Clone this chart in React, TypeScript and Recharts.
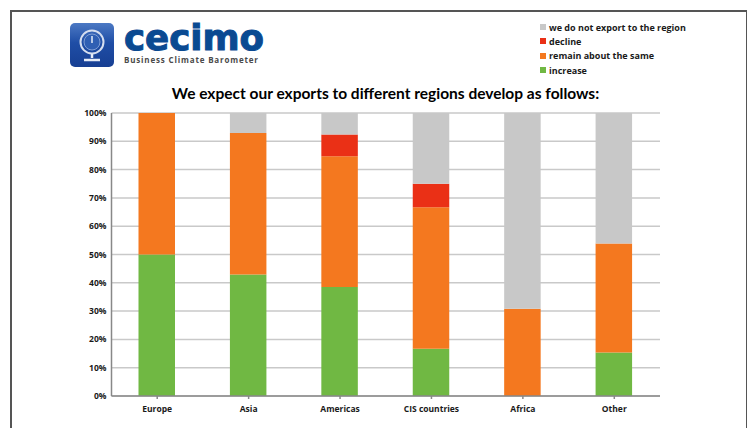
import React from "react";
import { BarChart, Bar, CartesianGrid, XAxis, YAxis, Legend } from "recharts";

const regions = ["Europe", "Asia", "Americas", "CIS countries", "Africa", "Other"];
const increase = [50, 42.9, 38.5, 16.7, 0, 15.4];
const remain = [50, 50, 46.2, 50, 30.8, 38.5];
const decline = [0, 0, 7.7, 8.3, 0, 0];
const noExport = [0, 7.1, 7.6, 25, 69.2, 46.1];
const percentTicks = [0, 10, 20, 30, 40, 50, 60, 70, 80, 90, 100];

const data = regions.map((name, i) => ({
  name,
  increase: increase[i],
  remain: remain[i],
  decline: decline[i],
  noExport: noExport[i],
}));

const font = "'Open Sans', 'Noto Sans', sans-serif";
const frameColor = "#555555";

// legend lists the stack top-down, so the payload gets reversed
const LegendBox = ({ payload }: any) => (
  <div>
    {[...(payload || [])].reverse().map((item: any) => (
      <div
        key={item.value}
        style={{ display: "flex", alignItems: "center", height: 14.3, fontSize: 9, fontWeight: 700, color: "#1a1a1a" }}
      >
        <span style={{ width: 6, height: 6, background: item.color, marginRight: 3, display: "inline-block" }} />
        {item.value}
      </div>
    ))}
  </div>
);

const Logo = () => (
  <svg width={210} height={50} style={{ position: "absolute", left: 68, top: 21 }}>
    <defs>
      <linearGradient id="logoBlue" x1="0" y1="0" x2="0" y2="1">
        <stop offset="0%" stopColor="#4c79c4" />
        <stop offset="45%" stopColor="#1f4ea6" />
        <stop offset="100%" stopColor="#173f93" />
      </linearGradient>
    </defs>
    <rect x={2} y={2} width={44} height={44} rx={5} fill="url(#logoBlue)" />
    <circle cx={24} cy={21} r={11.5} fill="none" stroke="#d5deef" strokeWidth={2} />
    <circle cx={24} cy={21} r={8} fill="#2f5fb3" stroke="#7f9ed4" strokeWidth={1} />
    <path d="M24 15 L24 22" stroke="#e6ecf7" strokeWidth={1.5} />
    <path d="M24 33 L24 37 M16 39 L32 39" stroke="#e6ecf7" strokeWidth={2.5} />
    <text
      x={56}
      y={28.5}
      fontFamily="'DejaVu Sans', sans-serif"
      fontWeight={700}
      fontSize={35}
      fill="#0a4a92"
      stroke="#0a4a92"
      strokeWidth={1}
      textLength={140}
      lengthAdjust="spacingAndGlyphs"
    >
      cecimo
    </text>
    <text x={56} y={41.5} fontFamily={font} fontWeight={700} fontSize={8} fill="#4a4a4a" textLength={134}>
      Business Climate Barometer
    </text>
  </svg>
);

export default function App() {
  return (
    <div style={{ position: "absolute", left: 0, top: 0, width: 747, height: 428, background: "#fff", fontFamily: font, overflow: "hidden" }}>
      {/* page frame, its bottom edge runs off the page */}
      <div
        style={{
          position: "absolute",
          left: 10,
          top: 10,
          width: 734,
          height: 430,
          borderTop: `2px solid ${frameColor}`,
          borderLeft: `2px solid ${frameColor}`,
          borderRight: `2px solid ${frameColor}`,
        }}
      />
      <Logo />
      <div
        style={{
          position: "absolute",
          left: 111,
          width: 549,
          top: 84,
          textAlign: "center",
          fontFamily: "Lato, sans-serif",
          fontSize: 15.5,
          fontWeight: 700,
          color: "#000",
          whiteSpace: "nowrap",
        }}
      >
        We expect our exports to different regions develop as follows:
      </div>
      <BarChart
        width={747}
        height={428}
        data={data}
        margin={{ top: 113, right: 87, bottom: 0, left: 0 }}
        style={{ position: "absolute", left: 0, top: 0 }}
      >
        <CartesianGrid vertical={false} stroke="#c9c9c9" strokeWidth={1.5} />
        <XAxis
          dataKey="name"
          height={32}
          interval={0}
          stroke="#888888"
          strokeWidth={1.5}
          tickSize={3}
          tick={{ fontSize: 8.5, fontWeight: 700, fill: "#1a1a1a", fontFamily: font, dy: 5 }}
        />
        <YAxis
          type="number"
          domain={[0, 100]}
          ticks={percentTicks}
          tickFormatter={(v: number) => `${v}%`}
          width={111.5}
          stroke="#888888"
          strokeWidth={1.5}
          tickSize={0}
          tickMargin={5}
          interval={0}
          tick={{ fontSize: 8.5, fontWeight: 700, fill: "#1a1a1a", fontFamily: font }}
        />
        {/* centre + middle keeps the legend out of the plot's offset */}
        <Legend
          content={<LegendBox />}
          layout="vertical"
          align="center"
          verticalAlign="middle"
          itemSorter={null}
          wrapperStyle={{ position: "absolute", left: 540, top: 20, width: 200, bottom: "auto", right: "auto" }}
        />
        <Bar dataKey="increase" name="increase" stackId="a" fill="#70b843" barSize={36.5} isAnimationActive={false} />
        <Bar dataKey="remain" name="remain about the same" stackId="a" fill="#f4781f" barSize={36.5} isAnimationActive={false} />
        <Bar dataKey="decline" name="decline" stackId="a" fill="#ea3016" barSize={36.5} isAnimationActive={false} />
        <Bar dataKey="noExport" name="we do not export to the region" stackId="a" fill="#c8c8c8" barSize={36.5} isAnimationActive={false} />
      </BarChart>
    </div>
  );
}
